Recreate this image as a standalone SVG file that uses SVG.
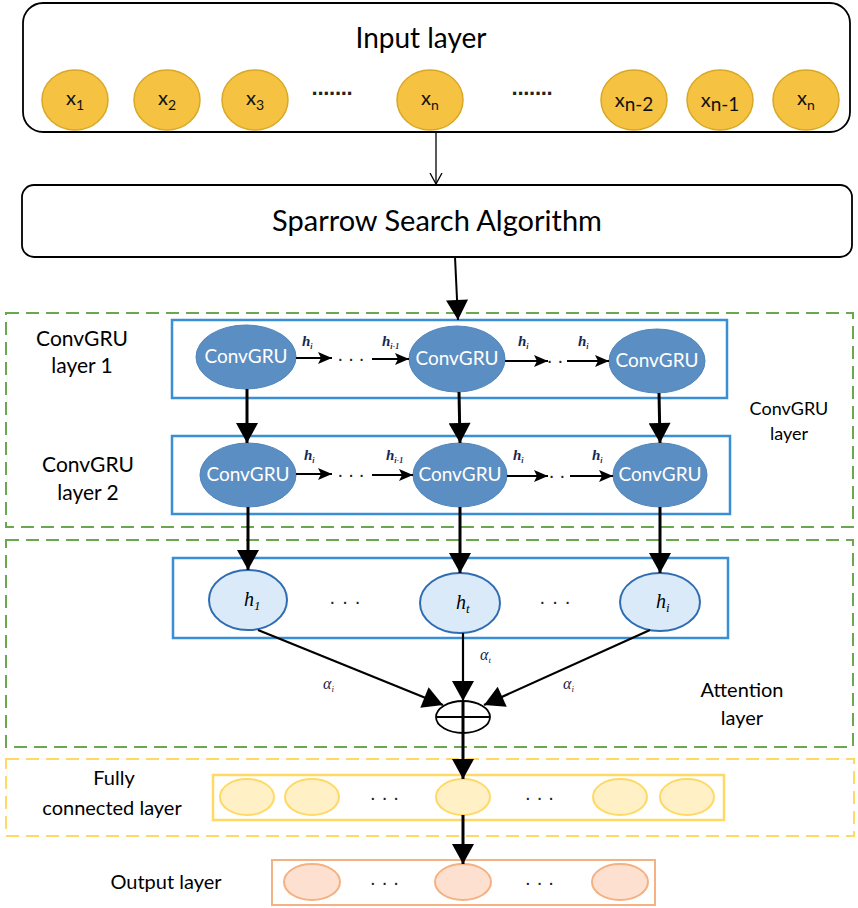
<svg xmlns="http://www.w3.org/2000/svg" width="858" height="908" viewBox="0 0 858 908">
<defs>
<style>
.sans{font-family:Lato,"Open Sans","Liberation Sans",sans-serif;fill:#000}
.ser{font-family:"Liberation Serif","DejaVu Serif",serif;font-style:italic}
.inode{fill:#f5c242;stroke:#d8a826;stroke-width:1.5}
.itxt{font-family:Lato,"Open Sans","Liberation Sans",sans-serif;font-size:20px;text-anchor:middle;fill:#111}
.gru{fill:#5b8ec2;stroke:#4f86bd;stroke-width:1}
.grutxt{font-family:Lato,"Open Sans","Liberation Sans",sans-serif;font-size:19px;fill:#fff;text-anchor:middle}
.brect{fill:none;stroke:#3a8fd4;stroke-width:2.5}
.hnode{fill:#dbeaf8;stroke:#2f6db3;stroke-width:2}
.gdash{fill:none;stroke:#6aa84f;stroke-width:2;stroke-dasharray:13 7}
.ydash{fill:none;stroke:#ffd966;stroke-width:2;stroke-dasharray:13 7}
.fcn{fill:#fff0c6;stroke:#ffd966;stroke-width:2}
.outn{fill:#fde0cf;stroke:#f4b183;stroke-width:2}
.thick{stroke:#000;stroke-width:3;fill:none}
.mid{stroke:#000;stroke-width:2;fill:none}
.dots{font-family:"Liberation Sans",sans-serif;font-size:20px;fill:#222;text-anchor:middle}
.bdots{font-family:"Liberation Sans",sans-serif;font-weight:bold;fill:#222;text-anchor:middle}
.lab{font-family:Lato,"Open Sans","Liberation Sans",sans-serif;fill:#000;text-anchor:middle}
</style>
<marker id="big" markerUnits="userSpaceOnUse" markerWidth="22" markerHeight="22" viewBox="0 0 20 22" refX="20" refY="11" orient="auto">
<path d="M0,0 L20,11 L0,22 z" fill="#000"/>
</marker>
<marker id="small" markerUnits="userSpaceOnUse" markerWidth="14" markerHeight="12" viewBox="0 0 14 12" refX="14" refY="6" orient="auto">
<path d="M0,0 L14,6 L0,12 L3,6 z" fill="#000"/>
</marker>
<marker id="open" markerUnits="userSpaceOnUse" markerWidth="12" markerHeight="14" viewBox="0 0 12 14" refX="11" refY="7" orient="auto">
<path d="M0,1 L11,7 L0,13" fill="none" stroke="#000" stroke-width="1.3"/>
</marker>
</defs>
<rect width="858" height="908" fill="#fff"/>

<g id="input-layer">
<rect x="23" y="3" width="827" height="129" rx="20" fill="#fff" stroke="#000" stroke-width="1.8"/>
<text class="sans" x="421" y="48" font-size="28" text-anchor="middle">Input layer</text>
<ellipse class="inode" cx="75" cy="100" rx="33" ry="30"/>
<ellipse class="inode" cx="167" cy="100" rx="33" ry="30"/>
<ellipse class="inode" cx="255" cy="100" rx="33" ry="30"/>
<ellipse class="inode" cx="430" cy="100" rx="33" ry="30"/>
<ellipse class="inode" cx="634" cy="100" rx="33" ry="30"/>
<ellipse class="inode" cx="720" cy="100" rx="33" ry="30"/>
<ellipse class="inode" cx="806" cy="100" rx="33" ry="30"/>
<text class="itxt" x="75" y="105">x<tspan font-size="14" dy="5">1</tspan></text>
<text class="itxt" x="167" y="105">x<tspan font-size="14" dy="5">2</tspan></text>
<text class="itxt" x="255" y="105">x<tspan font-size="14" dy="5">3</tspan></text>
<text class="itxt" x="430" y="105">x<tspan font-size="14" dy="5">n</tspan></text>
<text class="itxt" x="634" y="107" font-size="27">x<tspan font-size="19" dy="4">n-2</tspan></text>
<text class="itxt" x="720" y="107" font-size="27">x<tspan font-size="19" dy="4">n-1</tspan></text>
<text class="itxt" x="806" y="105">x<tspan font-size="14" dy="5">n</tspan></text>
<text class="bdots" x="332" y="101" font-size="22" letter-spacing="-1.5">·······</text>
<text class="bdots" x="532" y="101" font-size="22" letter-spacing="-1.5">·······</text>
</g>

<g id="ssa">
<rect x="22" y="185" width="830" height="72" rx="12" fill="#fff" stroke="#000" stroke-width="1.8"/>
<text class="sans" x="437" y="231" font-size="29" text-anchor="middle">Sparrow Search Algorithm</text>
</g>

<g id="convgru-layer">
<rect class="gdash" x="6" y="313" width="847" height="214"/>
<text class="lab" x="82" y="346" font-size="21">ConvGRU</text>
<text class="lab" x="82" y="373" font-size="21">layer 1</text>
<text class="lab" x="88" y="472" font-size="21">ConvGRU</text>
<text class="lab" x="88" y="500" font-size="21">layer 2</text>
<text class="lab" x="789" y="415" font-size="18">ConvGRU</text>
<text class="lab" x="789" y="440" font-size="18">layer</text>
</g>

<g id="convgru-row1">
<rect class="brect" x="172" y="320" width="555" height="78"/>
<ellipse class="gru" cx="246" cy="357" rx="50" ry="32"/>
<ellipse class="gru" cx="457" cy="359" rx="48" ry="33"/>
<ellipse class="gru" cx="657" cy="361" rx="48" ry="32"/>
<text class="grutxt" x="246" y="363">ConvGRU</text>
<text class="grutxt" x="457" y="365">ConvGRU</text>
<text class="grutxt" x="657" y="367">ConvGRU</text>
</g>

<g id="convgru-row2">
<rect class="brect" x="172" y="436" width="558" height="78"/>
<ellipse class="gru" cx="248" cy="475" rx="48" ry="32"/>
<ellipse class="gru" cx="460" cy="475" rx="47" ry="32"/>
<ellipse class="gru" cx="660" cy="475" rx="47" ry="32"/>
<text class="grutxt" x="248" y="481">ConvGRU</text>
<text class="grutxt" x="460" y="481">ConvGRU</text>
<text class="grutxt" x="660" y="481">ConvGRU</text>
</g>

<g id="attention-layer">
<rect class="gdash" x="6" y="540" width="847" height="207"/>
<rect class="brect" x="173" y="558" width="555" height="80"/>
<ellipse class="hnode" cx="248" cy="600" rx="39" ry="30"/>
<ellipse class="hnode" cx="460" cy="603" rx="40" ry="30"/>
<ellipse class="hnode" cx="660" cy="602" rx="40" ry="29"/>
<text class="ser" x="244" y="606" font-size="20">h<tspan font-size="13" dy="4">1</tspan></text>
<text class="ser" x="456" y="609" font-size="20">h<tspan font-size="13" dy="4">t</tspan></text>
<text class="ser" x="656" y="608" font-size="20">h<tspan font-size="13" dy="4">i</tspan></text>
<text class="dots" x="348" y="608" letter-spacing="6">···</text>
<text class="dots" x="558" y="608" letter-spacing="6">···</text>
<ellipse cx="463" cy="717" rx="27" ry="16" fill="#fff" stroke="#000" stroke-width="1.8"/>
<line x1="436" y1="717" x2="490" y2="717" stroke="#000" stroke-width="1.8"/>
<text class="lab" x="742" y="697" font-size="20">Attention</text>
<text class="lab" x="742" y="725" font-size="20">layer</text>
</g>

<g id="fc-layer">
<rect class="ydash" x="6" y="759" width="848" height="77"/>
<rect x="213" y="775" width="511" height="45" fill="none" stroke="#ffd966" stroke-width="2.5"/>
<ellipse class="fcn" cx="247" cy="797" rx="27" ry="18"/>
<ellipse class="fcn" cx="312" cy="797" rx="27" ry="18"/>
<ellipse class="fcn" cx="463" cy="797" rx="27" ry="18"/>
<ellipse class="fcn" cx="620" cy="797" rx="27" ry="18"/>
<ellipse class="fcn" cx="687" cy="797" rx="27" ry="18"/>
<text class="dots" x="387" y="804" letter-spacing="5">···</text>
<text class="dots" x="542" y="804" letter-spacing="5">···</text>
<text class="lab" x="114" y="785" font-size="20">Fully</text>
<text class="lab" x="112" y="815" font-size="20">connected layer</text>
</g>

<g id="output-layer">
<rect x="272" y="860" width="383" height="45" fill="none" stroke="#f4b183" stroke-width="2"/>
<ellipse class="outn" cx="312" cy="882" rx="28" ry="18"/>
<ellipse class="outn" cx="463" cy="882" rx="28" ry="18"/>
<ellipse class="outn" cx="620" cy="882" rx="28" ry="18"/>
<text class="dots" x="387" y="889" letter-spacing="5">···</text>
<text class="dots" x="542" y="889" letter-spacing="5">···</text>
<text class="lab" x="166" y="889" font-size="20">Output layer</text>
</g>

<g id="connectors">
<line x1="436" y1="132" x2="436" y2="184" stroke="#000" stroke-width="1.3" marker-end="url(#open)"/>
<line x1="455" y1="257" x2="458" y2="320" stroke="#000" stroke-width="2" marker-end="url(#big)"/>
<line class="thick" x1="247" y1="389" x2="247" y2="443" marker-end="url(#big)"/>
<line class="thick" x1="459" y1="392" x2="460" y2="443" marker-end="url(#big)"/>
<line class="thick" x1="659" y1="393" x2="660" y2="443" marker-end="url(#big)"/>
<line class="thick" x1="248" y1="507" x2="248" y2="570" marker-end="url(#big)"/>
<line class="thick" x1="460" y1="507" x2="460" y2="573" marker-end="url(#big)"/>
<line class="thick" x1="660" y1="507" x2="660" y2="573" marker-end="url(#big)"/>
<line class="mid" x1="296" y1="358" x2="332" y2="358" marker-end="url(#small)"/>
<line class="mid" x1="372" y1="359" x2="409" y2="359" marker-end="url(#small)"/>
<line class="mid" x1="505" y1="361" x2="548" y2="361" marker-end="url(#small)"/>
<line class="mid" x1="567" y1="361" x2="609" y2="361" marker-end="url(#small)"/>
<line class="mid" x1="296" y1="474" x2="332" y2="474" marker-end="url(#small)"/>
<line class="mid" x1="372" y1="475" x2="413" y2="475" marker-end="url(#small)"/>
<line class="mid" x1="507" y1="476" x2="548" y2="476" marker-end="url(#small)"/>
<line class="mid" x1="570" y1="476" x2="613" y2="476" marker-end="url(#small)"/>
<text class="dots" x="353" y="365" font-size="16" letter-spacing="4">···</text>
<text class="dots" x="557" y="367" font-size="16" letter-spacing="4">··</text>
<text class="dots" x="353" y="481" font-size="16" letter-spacing="4">···</text>
<text class="dots" x="559" y="482" font-size="16" letter-spacing="4">··</text>
<g class="ser" fill="#1a2550" font-weight="bold">
<text x="302" y="346" font-size="15">h<tspan font-size="8" dy="3">i</tspan></text>
<text x="382" y="346" font-size="15">h<tspan font-size="8" dy="3">i-1</tspan></text>
<text x="518" y="346" font-size="15">h<tspan font-size="8" dy="3">i</tspan></text>
<text x="578" y="346" font-size="15">h<tspan font-size="8" dy="3">i</tspan></text>
<text x="304" y="460" font-size="15">h<tspan font-size="8" dy="3">i</tspan></text>
<text x="386" y="460" font-size="15">h<tspan font-size="8" dy="3">i-1</tspan></text>
<text x="513" y="460" font-size="15">h<tspan font-size="8" dy="3">i</tspan></text>
<text x="592" y="460" font-size="15">h<tspan font-size="8" dy="3">i</tspan></text>
</g>
<line x1="258" y1="630" x2="443" y2="705" stroke="#000" stroke-width="2.2" marker-end="url(#big)"/>
<line x1="463" y1="633" x2="463" y2="701" stroke="#000" stroke-width="2.2" marker-end="url(#big)"/>
<line x1="650" y1="630" x2="484" y2="705" stroke="#000" stroke-width="2.2" marker-end="url(#big)"/>
<g class="ser" fill="#1a2550">
<text x="323" y="689" font-size="16">α<tspan font-size="9" dy="3">i</tspan></text>
<text x="480" y="660" font-size="16">α<tspan font-size="9" dy="3">t</tspan></text>
<text x="563" y="689" font-size="16">α<tspan font-size="9" dy="3">i</tspan></text>
</g>
<line class="thick" x1="463" y1="701" x2="463" y2="779" marker-end="url(#big)"/>
<line class="thick" x1="463" y1="815" x2="463" y2="864" marker-end="url(#big)"/>
</g>
</svg>
